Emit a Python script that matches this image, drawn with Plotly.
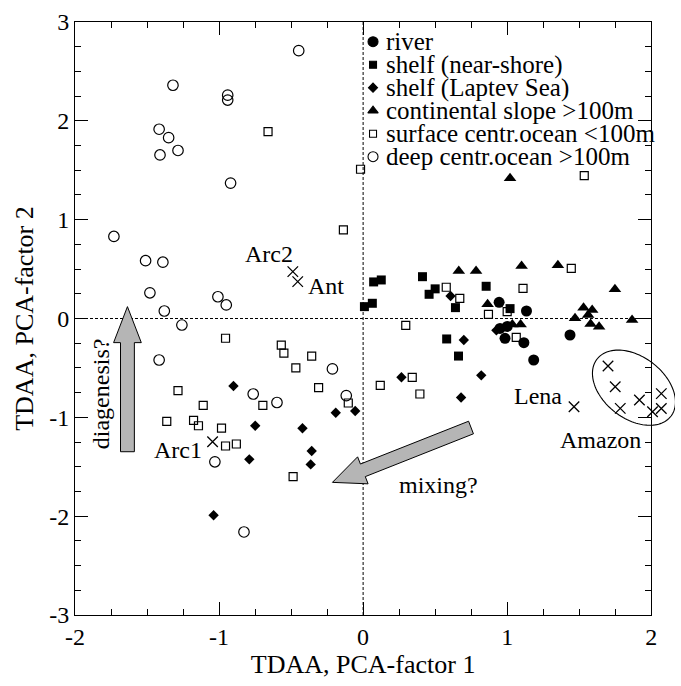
import numpy as np
import plotly.graph_objects as go

# ---- sample groups: PCA factor scores (factor 1, factor 2) ----
river_x = [0.944, 1.134, 0.95, 0.985, 1.00, 1.116, 1.184, 1.436]
river_y = [0.164, 0.076, -0.10, -0.20, -0.08, -0.245, -0.42, -0.167]

nearshore_x = [0.009, 0.064, 0.073, 0.126, 0.412, 0.50, 0.458, 0.641, 0.854, 1.02, 0.58, 0.662]
nearshore_y = [0.12, 0.154, 0.37, 0.39, 0.423, 0.30, 0.245, 0.11, 0.326, 0.10, -0.207, -0.38]

laptev_x = [-0.90, -0.749, -0.421, -0.357, -0.364, -0.79, -0.19, -0.055, -1.038,
            0.607, 0.699, 0.82, 0.266, 0.68, 0.925]
laptev_y = [-0.683, -1.085, -1.11, -1.34, -1.476, -1.425, -0.953, -0.936, -1.99,
            0.228, -0.218, -0.575, -0.595, -0.80, -0.12]

slope_x = [0.664, 0.784, 1.10, 1.352, 0.864, 1.036, 1.093, 1.748, 1.471, 1.53,
           1.59, 1.562, 1.579, 1.638, 1.867, 1.02]
slope_y = [0.48, 0.48, 0.53, 0.538, 0.144, -0.06, -0.06, 0.296, 0.002, 0.11,
           0.086, 0.035, -0.056, -0.083, -0.015, 1.42]

surface_x = [-0.66, -0.018, -0.137, -0.955, -0.568, -0.55, -0.357, -0.467, -0.309,
             -1.285, -1.11, -0.696, -0.103, -1.363, -1.177, -1.143, -0.983, -0.955,
             -0.88, -0.486, 0.577, 0.671, 0.296, 0.87, 1.0, 1.11, 1.445, 1.063,
             0.341, 0.119, 0.394, 1.535]
surface_y = [1.89, 1.51, 0.896, -0.20, -0.27, -0.35, -0.38, -0.50, -0.70,
             -0.73, -0.88, -0.88, -0.855, -1.04, -1.03, -1.085, -1.11, -1.29,
             -1.27, -1.60, 0.316, 0.204, -0.07, 0.042, 0.07, 0.305, 0.508, -0.19,
             -0.595, -0.676, -0.764, 1.445]

deep_x = [-0.447, -1.32, -0.94, -0.94, -1.416, -1.35, -1.285, -1.41, -0.92, -1.73,
          -1.51, -1.39, -1.48, -1.008, -0.95, -1.38, -1.258, -1.416, -0.213, -0.763,
          -0.598, -0.117, -1.029, -0.827]
deep_y = [2.71, 2.36, 2.26, 2.21, 1.915, 1.83, 1.70, 1.655, 1.37, 0.83,
          0.585, 0.57, 0.26, 0.22, 0.137, 0.076, -0.066, -0.42, -0.51, -0.764,
          -0.85, -0.78, -1.45, -2.16]

# reference end-members (Arc1, Arc2, Ant, Lena, Amazon samples)
ref_x = [-1.045, -0.488, -0.454, 1.464, 1.70, 1.75, 1.785, 1.918, 2.009, 2.07, 2.07]
ref_y = [-1.247, 0.474, 0.373, -0.893, -0.48, -0.69, -0.909, -0.825, -0.943, -0.76, -0.91]

legend_labels = ["river", "shelf (near-shore)", "shelf (Laptev Sea)",
                 "continental slope >100m", "surface centr.ocean <100m",
                 "deep centr.ocean >100m"]

x_ticks = [-2, -1, 0, 1, 2]
y_ticks = [-3, -2, -1, 0, 1, 2, 3]

# ---- layout geometry ----
W, H = 681, 686
ML, MT, MB = 75, 22, 71
PR = 24                      # gap between the right frame and the page edge
XR = (-2, 2)
YR = (-3, 3)
PW, PH = W - ML - PR, H - MT - MB
PX_X = PW / (XR[1] - XR[0])   # pixels per x unit
PX_Y = PH / (YR[1] - YR[0])   # pixels per y unit
XDOM = [0, PW / (PW + PR)]
XR_WIDE = [XR[0], XR[1] + PR / PX_X]   # same scale, reaching the page edge

FONT = "Liberation Serif, Times New Roman, serif"
BLACK = "black"

fig = go.Figure()

def add_group(x, y, symbol, size, lw=1.2, xa="x", ya="y"):
    fig.add_trace(go.Scatter(
        x=x, y=y, mode="markers", showlegend=False, cliponaxis=False,
        xaxis=xa, yaxis=ya,
        marker=dict(symbol=symbol, size=size, color=BLACK,
                    line=dict(color=BLACK, width=lw))))

add_group(deep_x, deep_y, "circle-open", 10.5)
add_group(surface_x, surface_y, "square-open", 8)
add_group(laptev_x, laptev_y, "diamond", 8, 0)
add_group(nearshore_x, nearshore_y, "square", 9, 0)
add_group(slope_x, slope_y, "triangle-up", 11, 0)
add_group(river_x, river_y, "circle", 11, 0)
add_group(ref_x, ref_y, "x-thin-open", 10.5, 1.3, "x3", "y3")

# ---- legend drawn inside the axes ----
leg_symbols = ["circle", "square", "diamond", "triangle-up", "square-open", "circle-open"]
leg_sizes = [10, 7, 7, 9, 7, 10]
leg_top_px, leg_row_px = 41.7, 23.0
leg_mark_px, leg_text_px = 376, 387
leg_y = [(MT + PH - (leg_top_px + i * leg_row_px)) / PH for i in range(len(legend_labels))]
leg_mx = (leg_mark_px - ML) / PW
leg_tx = (leg_text_px - ML) / PW
for sym, sz, yy in zip(leg_symbols, leg_sizes, leg_y):
    fig.add_trace(go.Scatter(
        x=[leg_mx], y=[yy], xaxis="x2", yaxis="y2", mode="markers", showlegend=False,
        marker=dict(symbol=sym, size=sz, color=BLACK, line=dict(color=BLACK, width=1.1))))
for lab, yy in zip(legend_labels, leg_y):
    fig.add_annotation(x=leg_tx, y=yy, xref="x domain", yref="y domain", text=lab,
                       showarrow=False, xanchor="left", yanchor="middle",
                       font=dict(family=FONT, size=25, color=BLACK))

# ---- block arrows (built in pixel space, expressed in data units) ----
def arrow_path(tail, tip, shaft_w, head_w, head_len):
    tx, ty = tail[0] * PX_X, -tail[1] * PX_Y
    hx, hy = tip[0] * PX_X, -tip[1] * PX_Y
    d = np.array([hx - tx, hy - ty])
    L = np.hypot(*d)
    u = d / L
    n = np.array([-u[1], u[0]])
    t = np.array([tx, ty])
    b = t + u * (L - head_len)
    pts = [t + n * shaft_w / 2, b + n * shaft_w / 2, b + n * head_w / 2,
           np.array([hx, hy]), b - n * head_w / 2, b - n * shaft_w / 2, t - n * shaft_w / 2]
    return "M " + " L ".join(f"{p[0] / PX_X:.4f},{-p[1] / PX_Y:.4f}" for p in pts) + " Z"

for tail, tip, sw, hw, hl in [((-1.636, -1.348), (-1.636, 0.12), 14, 28, 36),
                              ((0.749, -1.103), (-0.213, -1.658), 13.5, 29, 33)]:
    fig.add_shape(type="path", path=arrow_path(tail, tip, sw, hw, hl), xref="x", yref="y",
                  fillcolor="#b5b5b5", line=dict(color=BLACK, width=1), layer="above")

# ---- dashed zero lines ----
fig.add_shape(type="line", x0=0, x1=0, y0=YR[0], y1=YR[1], xref="x", yref="y",
              line=dict(color=BLACK, width=1, dash="3px,2px"), layer="below")
fig.add_shape(type="line", x0=XR[0], x1=XR[1], y0=0, y1=0, xref="x", yref="y",
              line=dict(color=BLACK, width=1, dash="3px,2px"), layer="below")

# ---- ellipse around the Amazon end-members ----
ecx, ecy, ea, eb, eang = 1.88, -0.70, 47, 31, np.deg2rad(-37)
tt = np.linspace(0, 2 * np.pi, 120)
ex = ecx + (ea * np.cos(tt) * np.cos(eang) - eb * np.sin(tt) * np.sin(eang)) / PX_X
ey = ecy + (ea * np.cos(tt) * np.sin(eang) + eb * np.sin(tt) * np.cos(eang)) / PX_Y
fig.add_shape(type="path", xref="x3", yref="y3",
              path="M " + " L ".join(f"{a:.5f},{b:.5f}" for a, b in zip(ex, ey)) + " Z",
              line=dict(color=BLACK, width=1.1))

# ---- text labels ----
labels = [("Arc2", -0.653, 0.653, 0), ("Ant", -0.256, 0.332, 0),
          ("Arc1", -1.283, -1.331, 0), ("Lena", 1.213, -0.781, 0),
          ("Amazon", 1.649, -1.230, 0), ("mixing?", 0.522, -1.685, 0),
          ("diagenesis?", -1.818, -0.764, -90)]
for txt, lx, ly, ang in labels:
    fig.add_annotation(x=lx, y=ly, xref="x", yref="y", text=txt, showarrow=False,
                       textangle=ang, xanchor="center", yanchor="middle",
                       font=dict(family=FONT, size=24, color=BLACK))

axis_common = dict(showline=True, linecolor=BLACK, linewidth=1, mirror="ticks",
                   ticks="inside", ticklen=13, tickwidth=1, tickcolor=BLACK,
                   showgrid=False, zeroline=False,
                   tickfont=dict(family=FONT, size=24, color=BLACK),
                   minor=dict(dtick=0.25, ticks="inside", ticklen=6, tickwidth=1,
                              tickcolor=BLACK, showgrid=False))

fig.update_layout(
    width=W, height=H,
    margin=dict(l=ML, r=0, t=MT, b=MB),
    paper_bgcolor="white", plot_bgcolor="rgba(0,0,0,0)",
    showlegend=False,
    font=dict(family=FONT, color=BLACK),
    xaxis=dict(domain=XDOM, range=list(XR), tickvals=x_ticks,
               ticktext=[str(v) for v in x_ticks],
               title=dict(text="TDAA, PCA-factor 1",
                          font=dict(family=FONT, size=26, color=BLACK), standoff=6),
               **axis_common),
    yaxis=dict(range=list(YR), tickvals=y_ticks, ticktext=[str(v) for v in y_ticks],
               title=dict(text="TDAA, PCA-factor 2",
                          font=dict(family=FONT, size=26, color=BLACK), standoff=8),
               **axis_common),
    xaxis2=dict(overlaying="x", range=[0, 1], visible=False),
    yaxis2=dict(overlaying="y", range=[0, 1], visible=False),
    xaxis3=dict(domain=[0, 1], range=XR_WIDE, anchor="y3", visible=False),
    yaxis3=dict(domain=[0, 1], range=list(YR), anchor="x3", visible=False),
)

fig.write_html("out.html")
